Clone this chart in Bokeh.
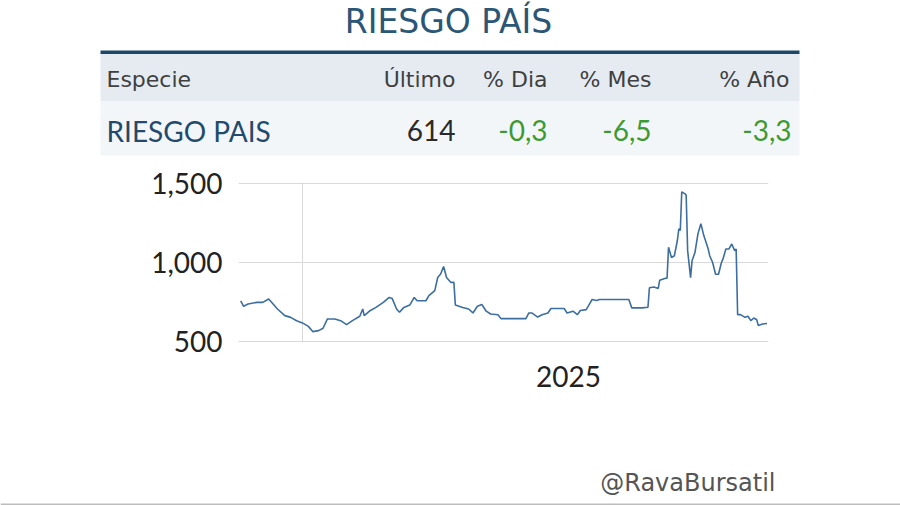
from bokeh.plotting import figure
from bokeh.layouts import column
from bokeh.models import Range1d, FixedTicker, NumeralTickFormatter, DatetimeTickFormatter
from bokeh.core.properties import value
from bokeh.embed import file_html
from bokeh.resources import INLINE
import pandas as pd

# ---- quote table ----
title = "RIESGO PAÍS"
headers = ["Especie", "Último", "% Dia", "% Mes", "% Año"]
especie = "RIESGO PAIS"
ultimo = 614
pct_dia = -0.3
pct_mes = -6.5
pct_anio = -3.3

# ---- country-risk series (bps) ----
dates = [
    "2024-11-20", "2024-11-22", "2024-11-25", "2024-12-01", "2024-12-05", "2024-12-09",
    "2024-12-11", "2024-12-15", "2024-12-20", "2024-12-24", "2024-12-28", "2025-01-01",
    "2025-01-05", "2025-01-08", "2025-01-12", "2025-01-15", "2025-01-18", "2025-01-23",
    "2025-01-27", "2025-01-31", "2025-02-04", "2025-02-09", "2025-02-11", "2025-02-12",
    "2025-02-16", "2025-02-20", "2025-02-25", "2025-03-01", "2025-03-03", "2025-03-06",
    "2025-03-08", "2025-03-11", "2025-03-15", "2025-03-18", "2025-03-20", "2025-03-26",
    "2025-03-28", "2025-04-01", "2025-04-03", "2025-04-05", "2025-04-07", "2025-04-09",
    "2025-04-12", "2025-04-14", "2025-04-15", "2025-04-20", "2025-04-24",
    "2025-04-27", "2025-04-30", "2025-05-03", "2025-05-06",
    "2025-05-09", "2025-05-14", "2025-05-16", "2025-05-20", "2025-06-02", "2025-06-04",
    "2025-06-06", "2025-06-10", "2025-06-13", "2025-06-17", "2025-06-19", "2025-06-28",
    "2025-06-30", "2025-07-04", "2025-07-07", "2025-07-09", "2025-07-13", "2025-07-15",
    "2025-07-17", "2025-07-20", "2025-07-22", "2025-08-11", "2025-08-13", "2025-08-20",
    "2025-08-24", "2025-08-25", "2025-08-28", "2025-08-31", "2025-09-01", "2025-09-05",
    "2025-09-06", "2025-09-07", "2025-09-09", "2025-09-11", "2025-09-13", "2025-09-14",
    "2025-09-15", "2025-09-16", "2025-09-18", "2025-09-19", "2025-09-20", "2025-09-22",
    "2025-09-23", "2025-09-25", "2025-09-27", "2025-09-29", "2025-10-01", "2025-10-04",
    "2025-10-05", "2025-10-07", "2025-10-09", "2025-10-11", "2025-10-13", "2025-10-14",
    "2025-10-16", "2025-10-18", "2025-10-20", "2025-10-22", "2025-10-23", "2025-10-24",
    "2025-10-26", "2025-10-29", "2025-10-31", "2025-11-02", "2025-11-04", "2025-11-06",
    "2025-11-07", "2025-11-10", "2025-11-13",
]
riesgo = [
    758, 723, 738, 748, 748, 769,
    748, 706, 664, 653, 632, 618,
    596, 563, 569, 584, 643, 643,
    632, 607, 632, 660, 706, 664,
    695, 716, 748, 779, 773, 706,
    685, 716, 731, 779, 758, 758,
    790, 822, 905, 927, 975, 905,
    874, 874, 731, 716, 706,
    681, 723, 734, 692,
    674, 670, 645, 645, 645, 681,
    681, 655, 670, 681, 709, 709,
    681, 692, 670, 696, 702, 734,
    766, 760, 766, 766, 713, 713,
    717, 840, 845, 836, 888, 900,
    900, 1096, 1032, 1043, 1139, 1213,
    1202, 1447, 1436, 1426, 1075, 904,
    1011, 1064, 1181, 1245, 1170, 1085,
    1043, 1000, 926, 926, 1000, 1021,
    1085, 1085, 1117, 1075, 1085, 670,
    670, 653, 660, 632, 649, 638,
    602, 611, 614,
]
year_start = "2025-01-01"
year_label_at = "2025-07-01"
y_ticks = [500, 1000, 1500]

FONT_NUM = value("Lato")
FONT_UI = value("DejaVu Sans")


def ms(d):
    return pd.Timestamp(d).value // 10**6


def fmt(v):
    return f"{v:.1f}".replace(".", ",")


def blank(h, y0):
    # strip of the card drawn in pixel coordinates (y grows downwards)
    f = figure(width=900, height=h, x_range=Range1d(0, 900), y_range=Range1d(y0 + h, y0),
               output_backend="svg", toolbar_location=None,
               min_border=0, min_border_left=0, min_border_right=0,
               min_border_top=0, min_border_bottom=0,
               x_axis_type=None, y_axis_type=None, frame_align=False)
    f.grid.visible = False
    f.outline_line_color = None
    f.background_fill_color = "white"
    f.border_fill_color = "white"
    return f


# ---- header: title and quote table ----
head = blank(165, 0)
head.text(x=[448], y=[21], text=[title], text_align="center", text_baseline="middle",
          text_font=FONT_UI, text_font_size="33px", text_color="#2b5675")
head.quad(left=[100], right=[799], top=[50], bottom=[53.5], fill_color="#1d4766", line_color=None)
head.quad(left=[100], right=[799], top=[53.5], bottom=[101], fill_color="#e5ebf1", line_color=None)
head.quad(left=[100], right=[799], top=[101], bottom=[155], fill_color="#f3f6f9", line_color=None)

head.text(x=[106], y=[79], text=[headers[0]], text_align="left", text_baseline="middle",
          text_font=FONT_UI, text_font_size="22px", text_color="#404040")
head.text(x=[455, 547, 651, 789], y=[79] * 4, text=headers[1:], text_align="right",
          text_baseline="middle", text_font=FONT_UI, text_font_size="22px", text_color="#404040")

head.text(x=[106], y=[130], text=[especie], text_align="left", text_baseline="middle",
          text_font=FONT_NUM, text_font_size="28px", text_color="#234a6b")
head.text(x=[455], y=[130], text=[str(ultimo)], text_align="right", text_baseline="middle",
          text_font=FONT_NUM, text_font_size="28px", text_color="#2a2a2a")
head.text(x=[547, 651, 791], y=[130] * 3, text=[fmt(pct_dia), fmt(pct_mes), fmt(pct_anio)],
          text_align="right", text_baseline="middle", text_font=FONT_NUM,
          text_font_size="28px", text_color="#3c9a32")

# ---- line chart ----
x = pd.to_datetime(dates)
p = figure(width=900, height=290, x_axis_type="datetime",
           x_range=Range1d(pd.Timestamp("2024-11-18 12:00"), pd.Timestamp("2025-11-14")),
           y_range=Range1d(494, 1506),
           output_backend="svg", toolbar_location=None, frame_align=False,
           min_border_left=238, min_border_right=132, min_border_top=17, min_border_bottom=113)
p.outline_line_color = None
p.background_fill_color = "white"
p.border_fill_color = "white"

p.line(x, riesgo, line_color="#3c6ea0", line_width=1.6)

p.yaxis.ticker = FixedTicker(ticks=y_ticks)
p.yaxis.formatter = NumeralTickFormatter(format="0,0")
p.xaxis.ticker = FixedTicker(ticks=[ms(year_label_at)])
p.xaxis.formatter = DatetimeTickFormatter(
    milliseconds="%Y", seconds="%Y", minsec="%Y", minutes="%Y", hourmin="%Y",
    hours="%Y", days="%Y", months="%Y", years="%Y")
p.xgrid.ticker = FixedTicker(ticks=[ms(year_start)])
p.grid.grid_line_color = "#d9d9d9"
p.grid.grid_line_width = 1

for ax in (p.xaxis, p.yaxis):
    ax.axis_line_color = None
    ax.major_tick_line_color = None
    ax.minor_tick_line_color = None
    ax.major_label_text_font = "Lato"
    ax.major_label_text_font_size = "28px"
    ax.major_label_text_color = "#222222"
p.yaxis.major_label_standoff = 10
p.xaxis.major_label_standoff = 17

# ---- footer ----
foot = blank(50, 455)
foot.text(x=[775], y=[482], text=["@RavaBursatil"], text_align="right", text_baseline="middle",
          text_font=FONT_UI, text_font_size="24px", text_color="#555555")
foot.quad(left=[0], right=[900], top=[503], bottom=[505], fill_color="#bdbdbd", line_color=None)

layout = column(head, p, foot, spacing=0)
open("out.html", "w").write(file_html(layout, INLINE))
